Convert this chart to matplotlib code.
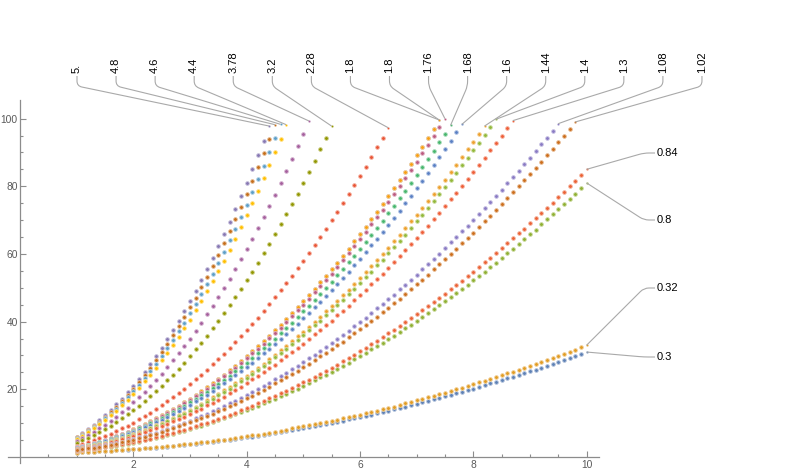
import numpy as np
import matplotlib
matplotlib.use('Agg')
import matplotlib.pyplot as plt
import matplotlib.colors as mcolors
from matplotlib.path import Path
from matplotlib.patches import PathPatch
from matplotlib.transforms import IdentityTransform

plt.rcParams['font.family'] = ['Liberation Sans', 'DejaVu Sans']

# sampling grid: x = 1.0, 1.1, ... 10.0
x_grid = np.round(np.arange(10, 101) / 10.0, 1)

# series values (each starts at x = 1.0, step 0.1)
y_0_30 = [1.3, 1.4, 1.4, 1.5, 1.6, 1.7, 1.8, 1.9, 2.0, 2.1,
          2.2, 2.3, 2.5, 2.6, 2.7, 2.9, 3.0, 3.2, 3.4, 3.5,
          3.7, 3.9, 4.1, 4.3, 4.5, 4.7, 4.9, 5.1, 5.3, 5.6,
          5.8, 6.0, 6.3, 6.5, 6.8, 7.1, 7.3, 7.6, 7.9, 8.2,
          8.5, 8.8, 9.1, 9.4, 9.7, 10.1, 10.4, 10.7, 11.1, 11.4,
          11.8, 12.2, 12.5, 12.9, 13.3, 13.7, 14.1, 14.5, 14.9, 15.3,
          15.7, 16.1, 16.6, 17.0, 17.4, 17.9, 18.3, 18.8, 19.3, 19.7,
          20.2, 20.7, 21.2, 21.7, 22.2, 22.7, 23.2, 23.7, 24.2, 24.8,
          25.3, 25.8, 26.4, 26.9, 27.5, 28.1, 28.6, 29.2, 29.8, 30.4,
          31.0]
y_0_32 = [1.3, 1.4, 1.5, 1.5, 1.6, 1.7, 1.8, 1.9, 2.0, 2.2,
          2.3, 2.4, 2.5, 2.7, 2.8, 3.0, 3.2, 3.3, 3.5, 3.7,
          3.9, 4.1, 4.3, 4.5, 4.7, 4.9, 5.1, 5.4, 5.6, 5.9,
          6.1, 6.4, 6.6, 6.9, 7.2, 7.5, 7.8, 8.1, 8.4, 8.7,
          9.0, 9.3, 9.7, 10.0, 10.3, 10.7, 11.0, 11.4, 11.8, 12.1,
          12.5, 12.9, 13.3, 13.7, 14.1, 14.5, 14.9, 15.4, 15.8, 16.2,
          16.7, 17.1, 17.6, 18.1, 18.5, 19.0, 19.5, 20.0, 20.5, 21.0,
          21.5, 22.0, 22.5, 23.0, 23.6, 24.1, 24.7, 25.2, 25.8, 26.3,
          26.9, 27.5, 28.1, 28.7, 29.3, 29.9, 30.5, 31.1, 31.7, 32.4,
          33.0]
y_0_80 = [1.8, 2.0, 2.2, 2.4, 2.6, 2.8, 3.0, 3.3, 3.6, 3.9,
          4.2, 4.5, 4.9, 5.2, 5.6, 6.0, 6.4, 6.8, 7.3, 7.7,
          8.2, 8.7, 9.2, 9.7, 10.2, 10.8, 11.4, 12.0, 12.6, 13.2,
          13.8, 14.4, 15.1, 15.8, 16.5, 17.2, 17.9, 18.7, 19.4, 20.2,
          21.0, 21.8, 22.6, 23.5, 24.3, 25.2, 26.1, 27.0, 27.9, 28.8,
          29.8, 30.8, 31.8, 32.8, 33.8, 34.8, 35.8, 36.9, 38.0, 39.1,
          40.2, 41.3, 42.5, 43.6, 44.8, 46.0, 47.2, 48.4, 49.7, 50.9,
          52.2, 53.5, 54.8, 56.1, 57.4, 58.8, 60.2, 61.6, 63.0, 64.4,
          65.8, 67.2, 68.7, 70.2, 71.7, 73.2, 74.7, 76.3, 77.8, 79.4,
          81.0]
y_0_84 = [1.8, 2.0, 2.2, 2.4, 2.6, 2.9, 3.2, 3.4, 3.7, 4.0,
          4.4, 4.7, 5.1, 5.4, 5.8, 6.3, 6.7, 7.1, 7.6, 8.1,
          8.6, 9.1, 9.6, 10.1, 10.7, 11.3, 11.9, 12.5, 13.1, 13.8,
          14.4, 15.1, 15.8, 16.5, 17.3, 18.0, 18.8, 19.6, 20.4, 21.2,
          22.0, 22.8, 23.7, 24.6, 25.5, 26.4, 27.3, 28.3, 29.3, 30.2,
          31.2, 32.3, 33.3, 34.3, 35.4, 36.5, 37.6, 38.7, 39.8, 41.0,
          42.2, 43.3, 44.5, 45.8, 47.0, 48.3, 49.5, 50.8, 52.1, 53.4,
          54.8, 56.1, 57.5, 58.9, 60.3, 61.7, 63.1, 64.6, 66.1, 67.5,
          69.0, 70.6, 72.1, 73.7, 75.2, 76.8, 78.4, 80.0, 81.7, 83.3,
          85.0]
y_5_00 = [6.0, 7.1, 8.2, 9.5, 10.8, 12.3, 13.8, 15.5, 17.2, 19.1,
          21.0, 23.1, 25.2, 27.5, 29.8, 32.3, 34.8, 37.5, 40.2, 43.1,
          46.0, 49.1, 52.2, 55.5, 58.8, 62.3, 65.8, 69.5, 73.2, 77.1,
          81.0, 85.1, 89.2, 93.5, 97.8]
y_4_80 = [5.8, 6.8, 7.9, 9.1, 10.4, 11.8, 13.3, 14.9, 16.6, 18.3,
          20.2, 22.2, 24.2, 26.4, 28.6, 31.0, 33.4, 36.0, 38.6, 41.4,
          44.2, 47.1, 50.2, 53.3, 56.5, 59.8, 63.2, 66.7, 70.3, 74.0,
          77.8, 81.7, 85.7, 89.8, 93.9, 98.2]
y_4_60 = [5.6, 6.6, 7.6, 8.8, 10.0, 11.4, 12.8, 14.3, 15.9, 17.6,
          19.4, 21.3, 23.3, 25.3, 27.5, 29.8, 32.1, 34.5, 37.1, 39.7,
          42.4, 45.2, 48.1, 51.1, 54.2, 57.4, 60.6, 64.0, 67.4, 71.0,
          74.6, 78.3, 82.1, 86.1, 90.1, 94.2, 98.3]
y_4_40 = [5.4, 6.3, 7.3, 8.4, 9.6, 10.9, 12.3, 13.7, 15.3, 16.9,
          18.6, 20.4, 22.3, 24.3, 26.3, 28.5, 30.7, 33.1, 35.5, 38.0,
          40.6, 43.3, 46.1, 48.9, 51.9, 54.9, 58.0, 61.2, 64.5, 67.9,
          71.4, 75.0, 78.6, 82.4, 86.2, 90.1, 94.1, 98.2]
y_3_78 = [4.8, 5.6, 6.4, 7.4, 8.4, 9.5, 10.7, 11.9, 13.2, 14.6,
          16.1, 17.7, 19.3, 21.0, 22.8, 24.6, 26.6, 28.6, 30.6, 32.8,
          35.0, 37.3, 39.7, 42.2, 44.7, 47.3, 50.0, 52.7, 55.6, 58.5,
          61.5, 64.5, 67.7, 70.9, 74.2, 77.5, 81.0, 84.5, 88.1, 91.8,
          95.5, 99.3]
y_3_20 = [4.2, 4.9, 5.6, 6.4, 7.3, 8.2, 9.2, 10.2, 11.4, 12.6,
          13.8, 15.1, 16.5, 17.9, 19.4, 21.0, 22.6, 24.3, 26.1, 27.9,
          29.8, 31.8, 33.8, 35.8, 38.0, 40.2, 42.5, 44.8, 47.2, 49.7,
          52.2, 54.8, 57.4, 60.2, 63.0, 65.8, 68.7, 71.7, 74.7, 77.8,
          81.0, 84.2, 87.5, 90.9, 94.3, 97.8]
y_2_28 = [3.3, 3.8, 4.3, 4.9, 5.5, 6.1, 6.8, 7.6, 8.4, 9.2,
          10.1, 11.1, 12.0, 13.1, 14.1, 15.3, 16.4, 17.6, 18.9, 20.2,
          21.5, 22.9, 24.3, 25.8, 27.4, 28.9, 30.5, 32.2, 33.9, 35.7,
          37.5, 39.3, 41.2, 43.2, 45.1, 47.2, 49.2, 51.4, 53.5, 55.7,
          58.0, 60.3, 62.7, 65.0, 67.5, 70.0, 72.5, 75.1, 77.7, 80.4,
          83.1, 85.8, 88.6, 91.5, 94.4, 97.3]
y_1_80 = [2.8, 3.2, 3.6, 4.0, 4.5, 5.1, 5.6, 6.2, 6.8, 7.5,
          8.2, 8.9, 9.7, 10.5, 11.4, 12.3, 13.2, 14.1, 15.1, 16.1,
          17.2, 18.3, 19.4, 20.6, 21.8, 23.1, 24.3, 25.6, 27.0, 28.4,
          29.8, 31.3, 32.8, 34.3, 35.8, 37.5, 39.1, 40.8, 42.5, 44.2,
          46.0, 47.8, 49.7, 51.6, 53.5, 55.5, 57.4, 59.5, 61.6, 63.7,
          65.8, 68.0, 70.2, 72.4, 74.7, 77.1, 79.4, 81.8, 84.2, 86.7,
          89.2, 91.7, 94.3, 96.9, 99.6]
y_1_76 = [2.8, 3.1, 3.5, 4.0, 4.4, 5.0, 5.5, 6.1, 6.7, 7.4,
          8.0, 8.8, 9.5, 10.3, 11.1, 12.0, 12.9, 13.8, 14.8, 15.8,
          16.8, 17.9, 19.0, 20.2, 21.3, 22.6, 23.8, 25.1, 26.4, 27.8,
          29.2, 30.6, 32.0, 33.5, 35.1, 36.6, 38.2, 39.9, 41.6, 43.3,
          45.0, 46.8, 48.6, 50.4, 52.3, 54.2, 56.2, 58.2, 60.2, 62.3,
          64.4, 66.5, 68.7, 70.9, 73.1, 75.4, 77.7, 80.0, 82.4, 84.8,
          87.2, 89.7, 92.2, 94.8, 97.4, 100.0]
y_1_68 = [2.7, 3.0, 3.4, 3.8, 4.3, 4.8, 5.3, 5.9, 6.4, 7.1,
          7.7, 8.4, 9.1, 9.9, 10.7, 11.5, 12.4, 13.2, 14.2, 15.1,
          16.1, 17.1, 18.2, 19.3, 20.4, 21.6, 22.8, 24.0, 25.3, 26.6,
          27.9, 29.2, 30.6, 32.1, 33.5, 35.0, 36.5, 38.1, 39.7, 41.3,
          43.0, 44.7, 46.4, 48.2, 50.0, 51.8, 53.7, 55.6, 57.5, 59.5,
          61.5, 63.5, 65.6, 67.7, 69.8, 72.0, 74.2, 76.4, 78.7, 81.0,
          83.3, 85.7, 88.1, 90.5, 93.0, 95.5, 98.0]
y_1_60 = [2.6, 2.9, 3.3, 3.7, 4.1, 4.6, 5.1, 5.6, 6.2, 6.8,
          7.4, 8.1, 8.7, 9.5, 10.2, 11.0, 11.8, 12.7, 13.5, 14.5,
          15.4, 16.4, 17.4, 18.4, 19.5, 20.6, 21.7, 22.9, 24.1, 25.3,
          26.6, 27.9, 29.2, 30.6, 32.0, 33.4, 34.9, 36.3, 37.9, 39.4,
          41.0, 42.6, 44.3, 45.9, 47.7, 49.4, 51.2, 53.0, 54.8, 56.7,
          58.6, 60.5, 62.5, 64.5, 66.5, 68.6, 70.7, 72.8, 75.0, 77.2,
          79.4, 81.7, 83.9, 86.3, 88.6, 91.0, 93.4, 95.9, 98.3]
y_1_44 = [2.4, 2.7, 3.1, 3.4, 3.8, 4.2, 4.7, 5.2, 5.7, 6.2,
          6.8, 7.4, 8.0, 8.6, 9.3, 10.0, 10.7, 11.5, 12.3, 13.1,
          14.0, 14.8, 15.7, 16.7, 17.6, 18.6, 19.7, 20.7, 21.8, 22.9,
          24.0, 25.2, 26.4, 27.6, 28.9, 30.2, 31.5, 32.8, 34.2, 35.6,
          37.0, 38.5, 39.9, 41.4, 43.0, 44.6, 46.2, 47.8, 49.4, 51.1,
          52.8, 54.6, 56.4, 58.2, 60.0, 61.8, 63.7, 65.6, 67.6, 69.6,
          71.6, 73.6, 75.6, 77.7, 79.9, 82.0, 84.2, 86.4, 88.6, 90.9,
          93.2, 95.5, 97.8]
y_1_40 = [2.4, 2.7, 3.0, 3.4, 3.7, 4.2, 4.6, 5.0, 5.5, 6.1,
          6.6, 7.2, 7.8, 8.4, 9.1, 9.8, 10.5, 11.2, 12.0, 12.8,
          13.6, 14.5, 15.3, 16.2, 17.2, 18.2, 19.1, 20.2, 21.2, 22.3,
          23.4, 24.5, 25.7, 26.9, 28.1, 29.4, 30.6, 31.9, 33.3, 34.6,
          36.0, 37.4, 38.9, 40.3, 41.8, 43.4, 44.9, 46.5, 48.1, 49.7,
          51.4, 53.1, 54.8, 56.6, 58.3, 60.2, 62.0, 63.8, 65.7, 67.7,
          69.6, 71.6, 73.6, 75.6, 77.7, 79.8, 81.9, 84.0, 86.2, 88.4,
          90.6, 92.9, 95.1, 97.4, 99.8]
y_1_30 = [2.3, 2.6, 2.9, 3.2, 3.5, 3.9, 4.3, 4.8, 5.2, 5.7,
          6.2, 6.7, 7.3, 7.9, 8.5, 9.1, 9.8, 10.5, 11.2, 11.9,
          12.7, 13.5, 14.3, 15.2, 16.0, 16.9, 17.8, 18.8, 19.8, 20.8,
          21.8, 22.9, 23.9, 25.0, 26.2, 27.3, 28.5, 29.7, 31.0, 32.2,
          33.5, 34.8, 36.2, 37.5, 38.9, 40.3, 41.8, 43.2, 44.7, 46.3,
          47.8, 49.4, 51.0, 52.6, 54.2, 55.9, 57.6, 59.4, 61.1, 62.9,
          64.7, 66.5, 68.4, 70.3, 72.2, 74.1, 76.1, 78.1, 80.1, 82.1,
          84.2, 86.3, 88.4, 90.6, 92.7, 94.9, 97.1, 99.4]
y_1_08 = [2.1, 2.3, 2.6, 2.8, 3.1, 3.4, 3.8, 4.1, 4.5, 4.9,
          5.3, 5.8, 6.2, 6.7, 7.2, 7.8, 8.3, 8.9, 9.5, 10.1,
          10.7, 11.4, 12.1, 12.8, 13.5, 14.2, 15.0, 15.8, 16.6, 17.4,
          18.3, 19.2, 20.1, 21.0, 21.9, 22.9, 23.9, 24.9, 25.9, 26.9,
          28.0, 29.1, 30.2, 31.3, 32.5, 33.7, 34.9, 36.1, 37.3, 38.6,
          39.9, 41.2, 42.5, 43.9, 45.2, 46.6, 48.0, 49.5, 50.9, 52.4,
          53.9, 55.4, 57.0, 58.6, 60.1, 61.8, 63.4, 65.0, 66.7, 68.4,
          70.1, 71.9, 73.6, 75.4, 77.2, 79.0, 80.9, 82.7, 84.6, 86.5,
          88.5, 90.4, 92.4, 94.4, 96.4, 98.5]
y_1_02 = [2.0, 2.2, 2.5, 2.7, 3.0, 3.3, 3.6, 3.9, 4.3, 4.7,
          5.1, 5.5, 5.9, 6.4, 6.9, 7.4, 7.9, 8.4, 9.0, 9.6,
          10.2, 10.8, 11.4, 12.1, 12.8, 13.5, 14.2, 15.0, 15.7, 16.5,
          17.3, 18.1, 19.0, 19.9, 20.7, 21.7, 22.6, 23.5, 24.5, 25.5,
          26.5, 27.5, 28.6, 29.7, 30.7, 31.9, 33.0, 34.1, 35.3, 36.5,
          37.7, 39.0, 40.2, 41.5, 42.8, 44.1, 45.4, 46.8, 48.2, 49.6,
          51.0, 52.4, 53.9, 55.4, 56.9, 58.4, 59.9, 61.5, 63.1, 64.7,
          66.3, 67.9, 69.6, 71.3, 73.0, 74.7, 76.4, 78.2, 80.0, 81.8,
          83.6, 85.5, 87.3, 89.2, 91.1, 93.1, 95.0, 97.0, 99.0]

series = [y_0_30, y_0_32, y_0_80, y_0_84, y_5_00, y_4_80, y_4_60, y_4_40,
          y_3_78, y_3_20, y_2_28, y_1_80, y_1_80, y_1_76, y_1_68, y_1_60,
          y_1_44, y_1_40, y_1_30, y_1_08, y_1_02]
labels = ['0.3', '0.32', '0.8', '0.84', '5.', '4.8', '4.6', '4.4',
          '3.78', '3.2', '2.28', '1.8', '1.8', '1.76', '1.68', '1.6',
          '1.44', '1.4', '1.3', '1.08', '1.02']
colors = ['#5E81B5', '#E19C24', '#8FB032', '#EB6235', '#8778B3', '#C56E1A',
          '#5D9EC7', '#FFBF00', '#A5609D', '#929600', '#E95536', '#6685D9',
          '#F89F13', '#BC5B80', '#47B66D', '#5A80C4', '#EDA02C', '#93B83A',
          '#EE5E38', '#8A7BC4', '#CC6E1C']

W, H = 800, 474
fig = plt.figure(figsize=(W / 100, H / 100), dpi=100)
ax = fig.add_axes([8 / W, 11 / H, 591 / W, 363 / H])
ax.set_xlim(-0.21, 10.22)
ax.set_ylim(-1.8, 105.5)

axis_col = '#8c8c8c'
for side in ['top', 'right']:
    ax.spines[side].set_visible(False)
ax.spines['left'].set_position(('data', 0))
ax.spines['bottom'].set_position(('data', 0))
for side in ['left', 'bottom']:
    ax.spines[side].set_color(axis_col)
    ax.spines[side].set_linewidth(0.9)

ax.set_xticks([2, 4, 6, 8, 10])
ax.set_xticks([v / 2 for v in range(1, 21) if v % 4 != 0], minor=True)
ax.set_yticks([20, 40, 60, 80, 100])
ax.set_yticks([v for v in range(5, 105, 5) if v % 20 != 0], minor=True)
ax.tick_params(which='both', direction='in', color=axis_col, width=0.8,
               labelsize=7.4, labelcolor='#5a5a5a')
ax.tick_params(which='major', length=4.5)
ax.tick_params(which='minor', length=2.5)
ax.tick_params(axis='x', which='major', pad=2.5)
ax.tick_params(axis='y', which='major', pad=1.5)

for y, c in zip(series, colors):
    xs = x_grid[:len(y)]
    halo = mcolors.to_hex(0.45 * np.array(mcolors.to_rgb(c)) + 0.55)
    ax.plot(xs[:-1], y[:-1], ls='none', marker='o', ms=2.7, mfc=c, mec=halo,
            mew=0.6)
    ax.plot(xs[-1:], y[-1:], ls='none', marker='o', ms=1.4, mfc=c, mec=halo,
            mew=0.3)


def callout(start, knee, anchor, r=5.0):
    start, knee, anchor = map(np.asarray, (start, knee, anchor))
    d1 = (knee - start) / np.linalg.norm(knee - start)
    d2 = (anchor - knee) / np.linalg.norm(anchor - knee)
    p1 = knee - d1 * r
    p2 = knee + d2 * r
    path = Path([start, p1, knee, p2, anchor],
                [Path.MOVETO, Path.LINETO, Path.CURVE3, Path.CURVE3, Path.LINETO])
    fig.add_artist(PathPatch(path, transform=IdentityTransform(), fill=False,
                             ec='#a9a9a9', lw=0.8))


# labels on top (series 4..20), left to right
top_idx = list(range(4, 21))
for i, k in enumerate(top_idx):
    lx = 77 + 39.06 * i
    y = series[k]
    anchor = ax.transData.transform((x_grid[len(y) - 1], y[-1]))
    fig.text(lx / W, 1 - 73 / H, labels[k], rotation=90, ha='center',
             va='bottom', fontsize=8, color='black')
    callout((lx, H - 76), (lx, H - 86), anchor)

# labels on the right
right_pos = {3: 153, 2: 220, 1: 288, 0: 357}
for k, ly in right_pos.items():
    y = series[k]
    anchor = ax.transData.transform((x_grid[len(y) - 1], y[-1]))
    fig.text(657 / W, 1 - ly / H, labels[k], ha='left', va='center',
             fontsize=8, color='black')
    callout((655, H - ly), (644, H - ly), anchor)

fig.savefig('out.png', dpi=100)
